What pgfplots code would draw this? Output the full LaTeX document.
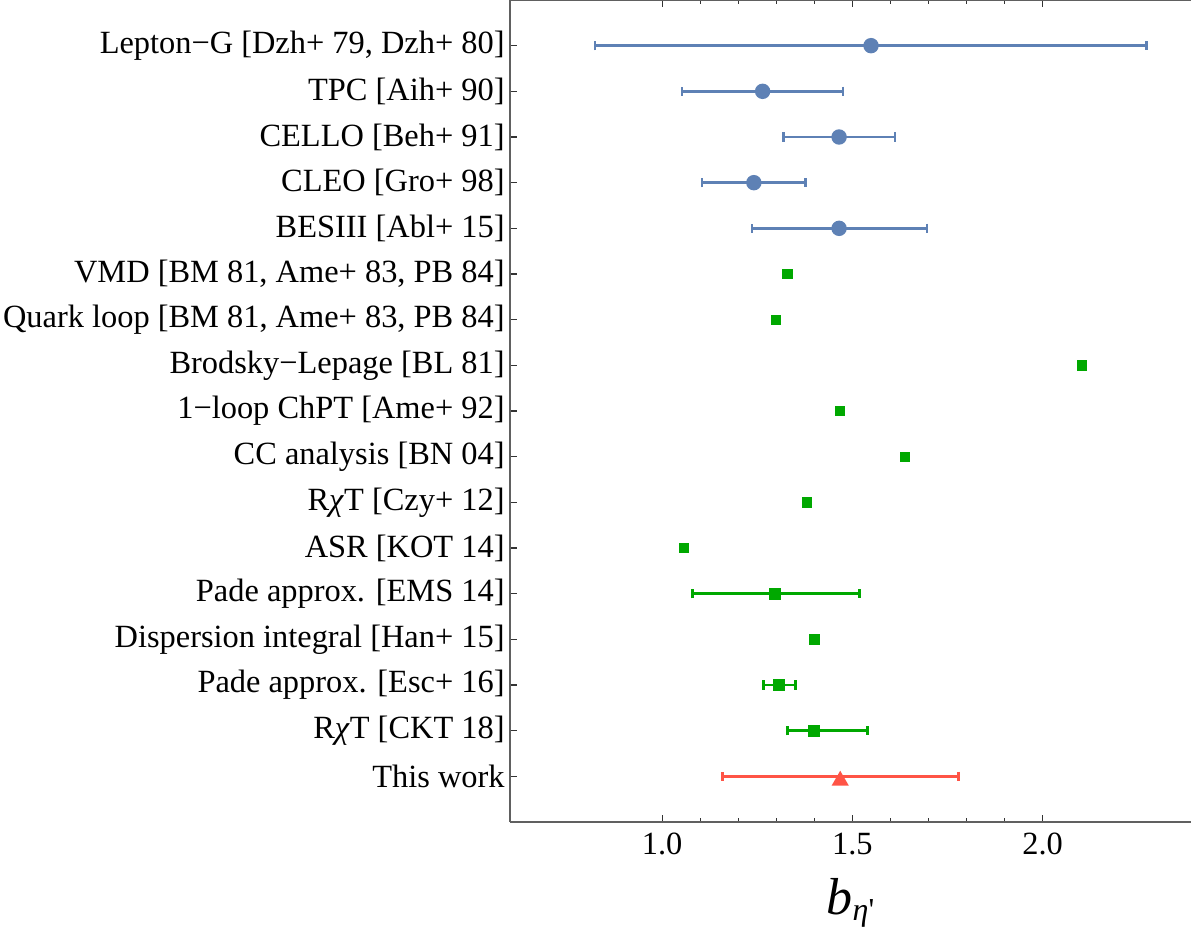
\documentclass[border=0pt]{standalone}
\usepackage{pgfplots}
\pgfplotsset{compat=1.18}
\usepackage{pgfplotstable}
\usepackage{fontspec}
\setmainfont{Liberation Serif}

\definecolor{mblue}{RGB}{94,129,181}
\definecolor{mgreen}{RGB}{0,168,0}
\definecolor{mred}{RGB}{255,84,70}

\pgfplotstableread{
x y em ep
1.549 1 0.726 0.724
1.264 2 0.212 0.211
1.465 3 0.146 0.147
1.241 4 0.136 0.136
1.465 5 0.229 0.231
}\expdata

\pgfplotstableread{
x y
1.329 6
1.299 7
2.103 8
1.468 9
1.639 10
1.381 11
1.057 12
1.400 14
}\theonly

\pgfplotstableread{
x y em ep
1.297 13 0.218 0.222
1.307 15 0.040 0.043
1.400 16 0.071 0.140
}\theerr

\pgfplotstableread{
x y em ep
1.468 17 0.309 0.311
}\thiswork

\begin{document}
\begin{tikzpicture}
\begin{axis}[
  scale only axis,
  width=340.5pt, height=411pt,
  xmin=0.6, xmax=2.39,
  ymin=0, ymax=18,
  y dir=reverse,
  axis x line*=box,
  axis y line*=left,
  axis line style={line width=0.6pt, gray!75!black},
  xtick={1,1.5,2},
  minor x tick num=4,
  xticklabels={1.0,1.5,2.0},
  ytick={1,...,17},
  yticklabels={
    Lepton−G [Dzh+ 79{,} Dzh+ 80],
    TPC [Aih+ 90],
    CELLO [Beh+ 91],
    CLEO [Gro+ 98],
    BESIII [Abl+ 15],
    VMD [BM 81{,} Ame+ 83{,} PB 84],
    Quark loop [BM 81{,} Ame+ 83{,} PB 84],
    Brodsky−Lepage [BL 81],
    1−loop ChPT [Ame+ 92],
    CC analysis [BN 04],
    R\textit{χ}T [Czy+ 12],
    ASR [KOT 14],
    Pade approx. [EMS 14],
    Dispersion integral [Han+ 15],
    Pade approx. [Esc+ 16],
    R\textit{χ}T [CKT 18],
    This work},
  tick align=inside,
  major tick length=3.5pt,
  minor tick length=2pt,
  every tick/.style={line width=0.6pt, black!80},
  tick label style={font=\fontsize{16.2}{19}\selectfont},
  yticklabel style={inner xsep=0pt, xshift=-2.5pt},
  xticklabel style={yshift=-2pt},
  xlabel={{\fontsize{26}{30}\selectfont\textit{b}}\raisebox{-0.3em}{\fontsize{16}{18}\selectfont\textit{η}\textquotesingle}},
  xlabel style={yshift=-5pt},
  clip=false,
]
\addplot[mblue, line width=1.3pt, only marks, mark=*, mark size=3.2pt,
  error bars/.cd, x dir=both, x explicit, error mark=|,
  error bar style={line width=1.3pt, mblue},
  error mark options={line width=1.3pt, mark size=2.3pt, mblue}]
  table[x=x, y=y, x error minus=em, x error plus=ep]{\expdata};
\addplot[mgreen, only marks, mark=square*, mark size=2.3pt]
  table[x=x, y=y]{\theonly};
\addplot[mgreen, line width=1.3pt, only marks, mark=square*, mark size=2.3pt,
  error bars/.cd, x dir=both, x explicit, error mark=|,
  error bar style={line width=1.3pt, mgreen},
  error mark options={line width=1.3pt, mark size=2.3pt, mgreen}]
  table[x=x, y=y, x error minus=em, x error plus=ep]{\theerr};
\addplot[mred, line width=1.3pt, only marks, mark=triangle*, mark size=3.7pt,
  mark options={yshift=-2.2pt},
  error bars/.cd, x dir=both, x explicit, error mark=|,
  error bar style={line width=1.3pt, mred},
  error mark options={line width=1.3pt, mark size=2.3pt, mred}]
  table[x=x, y=y, x error minus=em, x error plus=ep]{\thiswork};
\end{axis}
\pgfresetboundingbox
\path (current axis.south west) ++(-255pt,-54pt) rectangle (current axis.north east);
\end{tikzpicture}
\end{document}
